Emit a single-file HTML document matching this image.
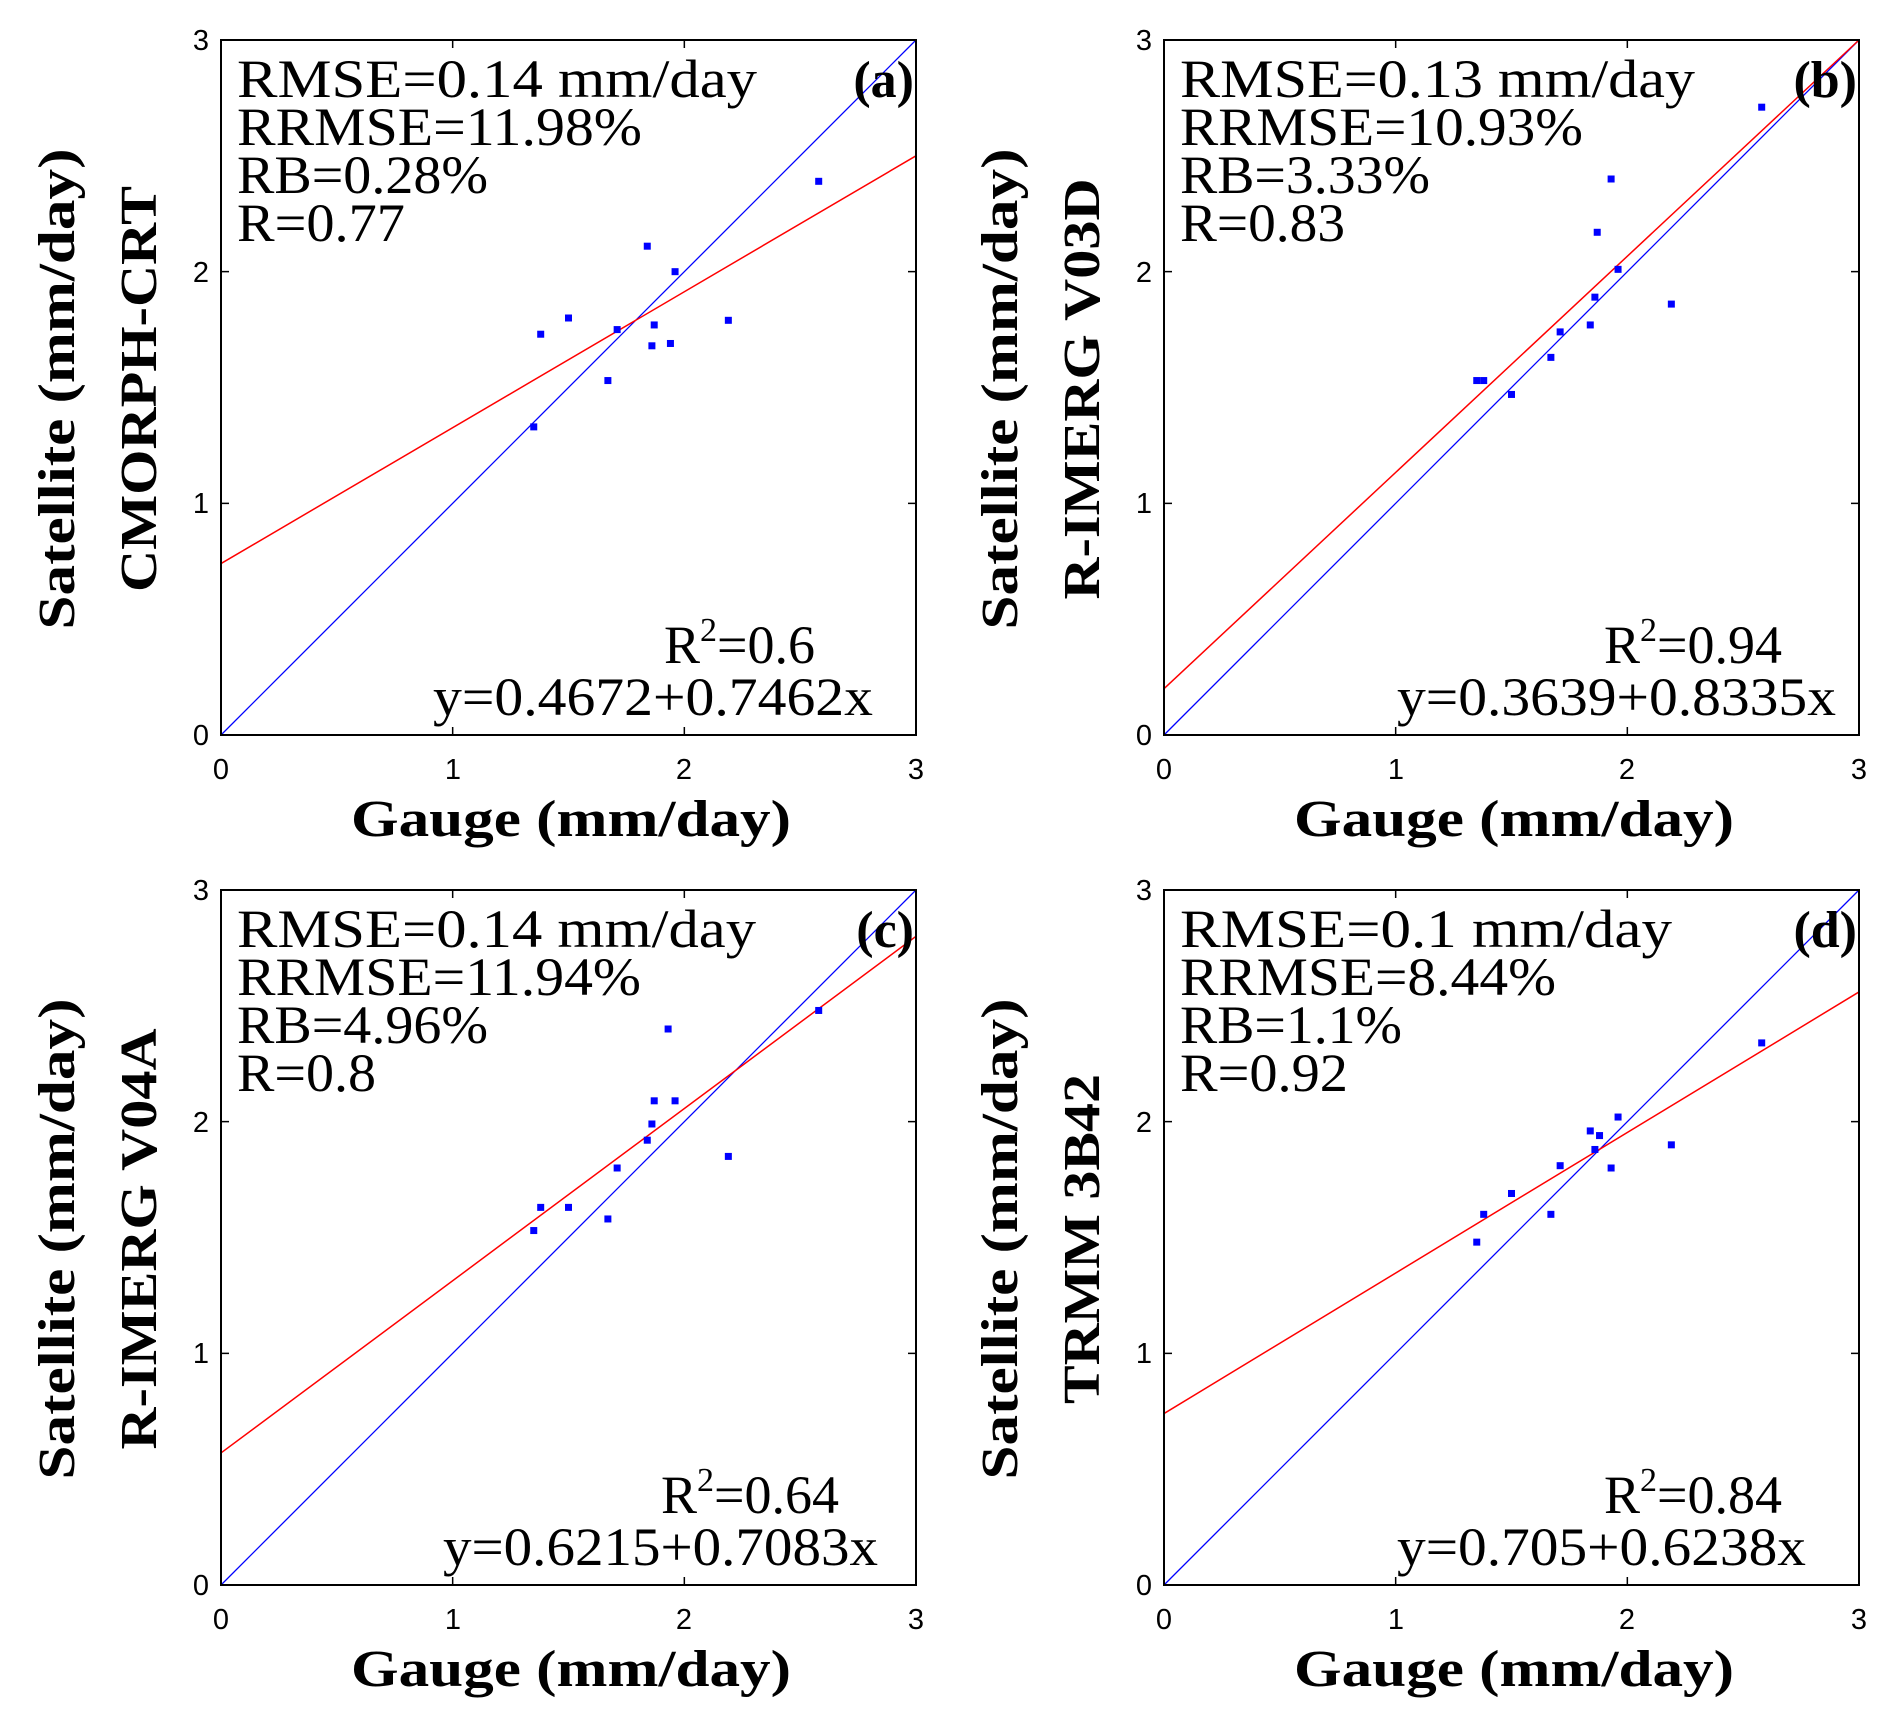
<!DOCTYPE html>
<html><head><meta charset="utf-8"><style>
html,body{margin:0;padding:0;background:#fff;}
svg{display:block;}
.t{font-family:"Liberation Serif",serif;font-size:54px;fill:#000;}
.b{font-family:"Liberation Serif",serif;font-size:52px;font-weight:bold;fill:#000;}
.k{font-family:"Liberation Sans",sans-serif;font-size:29px;fill:#000;}
</style></head><body>
<svg id="s" width="1891" height="1724" viewBox="0 0 1891 1724" xmlns="http://www.w3.org/2000/svg">
<rect width="1891" height="1724" fill="#fff"/>
<!-- Panel a -->
<g transform="translate(221,40)">
<g id="pa"></g>
<text class="t" x="16" y="57" textLength="520" lengthAdjust="spacingAndGlyphs">RMSE=0.14 mm/day</text>
<text class="t" x="16" y="105" textLength="405" lengthAdjust="spacingAndGlyphs">RRMSE=11.98%</text>
<text class="t" x="16" y="153" textLength="251" lengthAdjust="spacingAndGlyphs">RB=0.28%</text>
<text class="t" x="16" y="201" textLength="168" lengthAdjust="spacingAndGlyphs">R=0.77</text>
<text class="b" x="693" y="57" text-anchor="end">(a)</text>
<text class="t" x="443" y="623">R<tspan dy="-22" font-size="34">2</tspan><tspan dy="22">=0.6</tspan></text>
<text class="t" x="212" y="675" textLength="440" lengthAdjust="spacingAndGlyphs">y=0.4672+0.7462x</text>
<text class="b" x="350" y="796" text-anchor="middle" textLength="440" lengthAdjust="spacingAndGlyphs">Gauge (mm/day)</text>
<text class="b" transform="translate(-147,349) rotate(-90)" text-anchor="middle" textLength="481" lengthAdjust="spacingAndGlyphs">Satellite (mm/day)</text>
<text class="b" transform="translate(-65,349) rotate(-90)" text-anchor="middle" textLength="406" lengthAdjust="spacingAndGlyphs">CMORPH-CRT</text>
</g>
<!-- Panel b -->
<g transform="translate(1164,40)">
<g id="pb"></g>
<text class="t" x="16" y="57" textLength="515" lengthAdjust="spacingAndGlyphs">RMSE=0.13 mm/day</text>
<text class="t" x="16" y="105" textLength="403" lengthAdjust="spacingAndGlyphs">RRMSE=10.93%</text>
<text class="t" x="16" y="153" textLength="250" lengthAdjust="spacingAndGlyphs">RB=3.33%</text>
<text class="t" x="16" y="201" textLength="165" lengthAdjust="spacingAndGlyphs">R=0.83</text>
<text class="b" x="693" y="57" text-anchor="end">(b)</text>
<text class="t" x="440" y="623">R<tspan dy="-22" font-size="34">2</tspan><tspan dy="22">=0.94</tspan></text>
<text class="t" x="233" y="675" textLength="439" lengthAdjust="spacingAndGlyphs">y=0.3639+0.8335x</text>
<text class="b" x="350" y="796" text-anchor="middle" textLength="440" lengthAdjust="spacingAndGlyphs">Gauge (mm/day)</text>
<text class="b" transform="translate(-147,349) rotate(-90)" text-anchor="middle" textLength="481" lengthAdjust="spacingAndGlyphs">Satellite (mm/day)</text>
<text class="b" transform="translate(-65,349) rotate(-90)" text-anchor="middle" textLength="421" lengthAdjust="spacingAndGlyphs">R-IMERG V03D</text>
</g>
<!-- Panel c -->
<g transform="translate(221,890)">
<g id="pc"></g>
<text class="t" x="16" y="57" textLength="519" lengthAdjust="spacingAndGlyphs">RMSE=0.14 mm/day</text>
<text class="t" x="16" y="105" textLength="404" lengthAdjust="spacingAndGlyphs">RRMSE=11.94%</text>
<text class="t" x="16" y="153" textLength="251" lengthAdjust="spacingAndGlyphs">RB=4.96%</text>
<text class="t" x="16" y="201" textLength="139" lengthAdjust="spacingAndGlyphs">R=0.8</text>
<text class="b" x="693" y="57" text-anchor="end">(c)</text>
<text class="t" x="440" y="623">R<tspan dy="-22" font-size="34">2</tspan><tspan dy="22">=0.64</tspan></text>
<text class="t" x="222" y="675" textLength="435" lengthAdjust="spacingAndGlyphs">y=0.6215+0.7083x</text>
<text class="b" x="350" y="796" text-anchor="middle" textLength="440" lengthAdjust="spacingAndGlyphs">Gauge (mm/day)</text>
<text class="b" transform="translate(-147,349) rotate(-90)" text-anchor="middle" textLength="481" lengthAdjust="spacingAndGlyphs">Satellite (mm/day)</text>
<text class="b" transform="translate(-65,349) rotate(-90)" text-anchor="middle" textLength="421" lengthAdjust="spacingAndGlyphs">R-IMERG V04A</text>
</g>
<!-- Panel d -->
<g transform="translate(1164,890)">
<g id="pd"></g>
<text class="t" x="16" y="57" textLength="492" lengthAdjust="spacingAndGlyphs">RMSE=0.1 mm/day</text>
<text class="t" x="16" y="105" textLength="376" lengthAdjust="spacingAndGlyphs">RRMSE=8.44%</text>
<text class="t" x="16" y="153" textLength="222" lengthAdjust="spacingAndGlyphs">RB=1.1%</text>
<text class="t" x="16" y="201" textLength="168" lengthAdjust="spacingAndGlyphs">R=0.92</text>
<text class="b" x="693" y="57" text-anchor="end">(d)</text>
<text class="t" x="440" y="623">R<tspan dy="-22" font-size="34">2</tspan><tspan dy="22">=0.84</tspan></text>
<text class="t" x="233" y="675" textLength="409" lengthAdjust="spacingAndGlyphs">y=0.705+0.6238x</text>
<text class="b" x="350" y="796" text-anchor="middle" textLength="440" lengthAdjust="spacingAndGlyphs">Gauge (mm/day)</text>
<text class="b" transform="translate(-147,349) rotate(-90)" text-anchor="middle" textLength="481" lengthAdjust="spacingAndGlyphs">Satellite (mm/day)</text>
<text class="b" transform="translate(-65,349) rotate(-90)" text-anchor="middle" textLength="330" lengthAdjust="spacingAndGlyphs">TRMM 3B42</text>
</g>
<!-- tick labels -->
<g class="k">
<text x="209" y="50" text-anchor="end">3</text><text x="209" y="282" text-anchor="end">2</text><text x="209" y="513" text-anchor="end">1</text><text x="209" y="745" text-anchor="end">0</text>
<text x="221" y="779" text-anchor="middle">0</text><text x="453" y="779" text-anchor="middle">1</text><text x="684" y="779" text-anchor="middle">2</text><text x="916" y="779" text-anchor="middle">3</text>
<text x="1152" y="50" text-anchor="end">3</text><text x="1152" y="282" text-anchor="end">2</text><text x="1152" y="513" text-anchor="end">1</text><text x="1152" y="745" text-anchor="end">0</text>
<text x="1164" y="779" text-anchor="middle">0</text><text x="1396" y="779" text-anchor="middle">1</text><text x="1627" y="779" text-anchor="middle">2</text><text x="1859" y="779" text-anchor="middle">3</text>
<text x="209" y="900" text-anchor="end">3</text><text x="209" y="1132" text-anchor="end">2</text><text x="209" y="1363" text-anchor="end">1</text><text x="209" y="1595" text-anchor="end">0</text>
<text x="221" y="1629" text-anchor="middle">0</text><text x="453" y="1629" text-anchor="middle">1</text><text x="684" y="1629" text-anchor="middle">2</text><text x="916" y="1629" text-anchor="middle">3</text>
<text x="1152" y="900" text-anchor="end">3</text><text x="1152" y="1132" text-anchor="end">2</text><text x="1152" y="1363" text-anchor="end">1</text><text x="1152" y="1595" text-anchor="end">0</text>
<text x="1164" y="1629" text-anchor="middle">0</text><text x="1396" y="1629" text-anchor="middle">1</text><text x="1627" y="1629" text-anchor="middle">2</text><text x="1859" y="1629" text-anchor="middle">3</text>
</g>
</svg>
<script>
var NS="http://www.w3.org/2000/svg",W=695;
function px(x){return x/3*W;} function py(y){return W-y/3*W;}
function el(g,n,a){var e=document.createElementNS(NS,n);for(var k in a)e.setAttribute(k,a[k]);g.appendChild(e);return e;}
var P={
pa:{r:[0.74,2.5],d:[[1.35,1.33],[1.38,1.73],[1.5,1.8],[1.67,1.53],[1.71,1.75],[1.84,2.11],[1.86,1.68],[1.87,1.77],[1.94,1.69],[1.96,2.0],[2.19,1.79],[2.58,2.39]]},
pb:{r:[0.2,3.0],d:[[1.35,1.53],[1.38,1.53],[1.5,1.47],[1.67,1.63],[1.71,1.74],[1.84,1.77],[1.86,1.89],[1.87,2.17],[1.93,2.4],[1.96,2.01],[2.19,1.86],[2.58,2.71]]},
pc:{r:[0.57,2.8],d:[[1.35,1.53],[1.38,1.63],[1.5,1.63],[1.67,1.58],[1.71,1.8],[1.84,1.92],[1.86,1.99],[1.87,2.09],[1.93,2.4],[1.96,2.09],[2.19,1.85],[2.58,2.48]]},
pd:{r:[0.74,2.56],d:[[1.35,1.48],[1.38,1.6],[1.5,1.69],[1.67,1.6],[1.71,1.81],[1.84,1.96],[1.86,1.88],[1.88,1.94],[1.93,1.8],[1.96,2.02],[2.19,1.9],[2.58,2.34]]}};
for(var id in P){var g=document.getElementById(id),p=P[id];
 var tk="";[1,2].forEach(function(v){var x=px(v),y=py(v);tk+="M0 "+y+"h8M"+W+" "+y+"h-8M"+x+" "+W+"v-8M"+x+" 0v8";});
 el(g,"path",{d:tk,stroke:"#000","stroke-width":1.5,fill:"none"});
 el(g,"line",{x1:0,y1:W,x2:W,y2:0,stroke:"#0000ff","stroke-width":1.3});
 el(g,"line",{x1:0,y1:py(p.r[0]),x2:W,y2:py(p.r[1]),stroke:"#ff0000","stroke-width":1.5});
 p.d.forEach(function(q){el(g,"rect",{x:px(q[0])-3.5,y:py(q[1])-3.5,width:7,height:7,fill:"#0000ff"});});
 el(g,"rect",{x:0,y:0,width:W,height:W,fill:"none",stroke:"#000","stroke-width":2});
}
</script>
</body></html>
